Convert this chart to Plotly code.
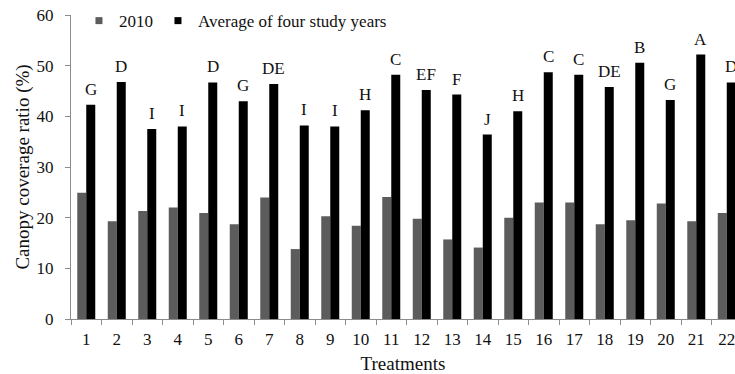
import plotly.graph_objects as go

treatments = [str(i) for i in range(1, 23)]
vals_2010 = [24.9, 19.3, 21.3, 22.0, 20.9, 18.7, 24.0, 13.8, 20.3, 18.4, 24.1,
             19.8, 15.7, 14.1, 20.0, 23.0, 23.0, 18.7, 19.5, 22.8, 19.3, 20.9]
vals_avg = [42.3, 46.8, 37.5, 38.0, 46.7, 43.0, 46.4, 38.2, 38.0, 41.2, 48.2,
            45.2, 44.3, 36.4, 41.0, 48.7, 48.2, 45.8, 50.6, 43.2, 52.2, 46.7]
letters = ["G", "D", "I", "I", "D", "G", "DE", "I", "I", "H", "C",
           "EF", "F", "J", "H", "C", "C", "DE", "B", "G", "A", "D"]

FONT = "Liberation Serif"
GRAY = "#5c5c5c"
AXIS = "#8c8c8c"

fig = go.Figure()
fig.add_trace(go.Bar(x=treatments, y=vals_2010, name="2010",
                     marker=dict(color=GRAY, line=dict(width=0)), showlegend=False))
fig.add_trace(go.Bar(x=treatments, y=vals_avg, name="Average of four study years",
                     marker=dict(color="#000000", line=dict(width=0)), showlegend=False))
# legend entries
fig.add_trace(go.Scatter(x=[treatments[0]], y=[None], mode="markers", name="2010",
                         marker=dict(symbol="square", size=7, color=GRAY)))
fig.add_trace(go.Scatter(x=[treatments[0]], y=[None], mode="markers", name="Average of four study years",
                         marker=dict(symbol="square", size=7, color="#000000")))

for i, (v, l) in enumerate(zip(vals_avg, letters)):
    fig.add_annotation(x=i, y=v, text=l, showarrow=False, xshift=4.5, yshift=4,
                       yanchor="bottom", font=dict(family=FONT, size=17, color="#111"))

fig.update_layout(
    width=735, height=374,
    margin=dict(l=71, r=0, t=15, b=55, autoexpand=False),
    paper_bgcolor="white", plot_bgcolor="white",
    barmode="group", bargap=0.41, bargroupgap=0,
    font=dict(family=FONT, size=17, color="#111"),
    legend=dict(orientation="h", x=0.012, y=0.98, xanchor="left", yanchor="middle",
                font=dict(family=FONT, size=17), itemwidth=30,
                bgcolor="rgba(0,0,0,0)", tracegroupgap=0),
    xaxis=dict(type="category", range=[-0.5, 21.27], showline=True, linecolor=AXIS,
               linewidth=1, ticks="outside", tickson="boundaries", ticklen=5,
               tickcolor=AXIS, showgrid=False, automargin=False, ticklabelstandoff=5,
               tickfont=dict(family=FONT, size=17),
               title=dict(text="Treatments", font=dict(family=FONT, size=19), standoff=9)),
    yaxis=dict(range=[0, 60], dtick=10, showline=True, linecolor=AXIS, linewidth=1,
               ticks="outside", ticklen=5, tickcolor=AXIS, showgrid=False, zeroline=False,
               automargin=False, ticklabelstandoff=8, tickfont=dict(family=FONT, size=17),
               title=dict(text="Canopy coverage ratio (%)", font=dict(family=FONT, size=19),
                          standoff=1)),
)

fig.write_html("out.html", config={"displayModeBar": False},
               post_script="document.body.style.margin='0px';")
